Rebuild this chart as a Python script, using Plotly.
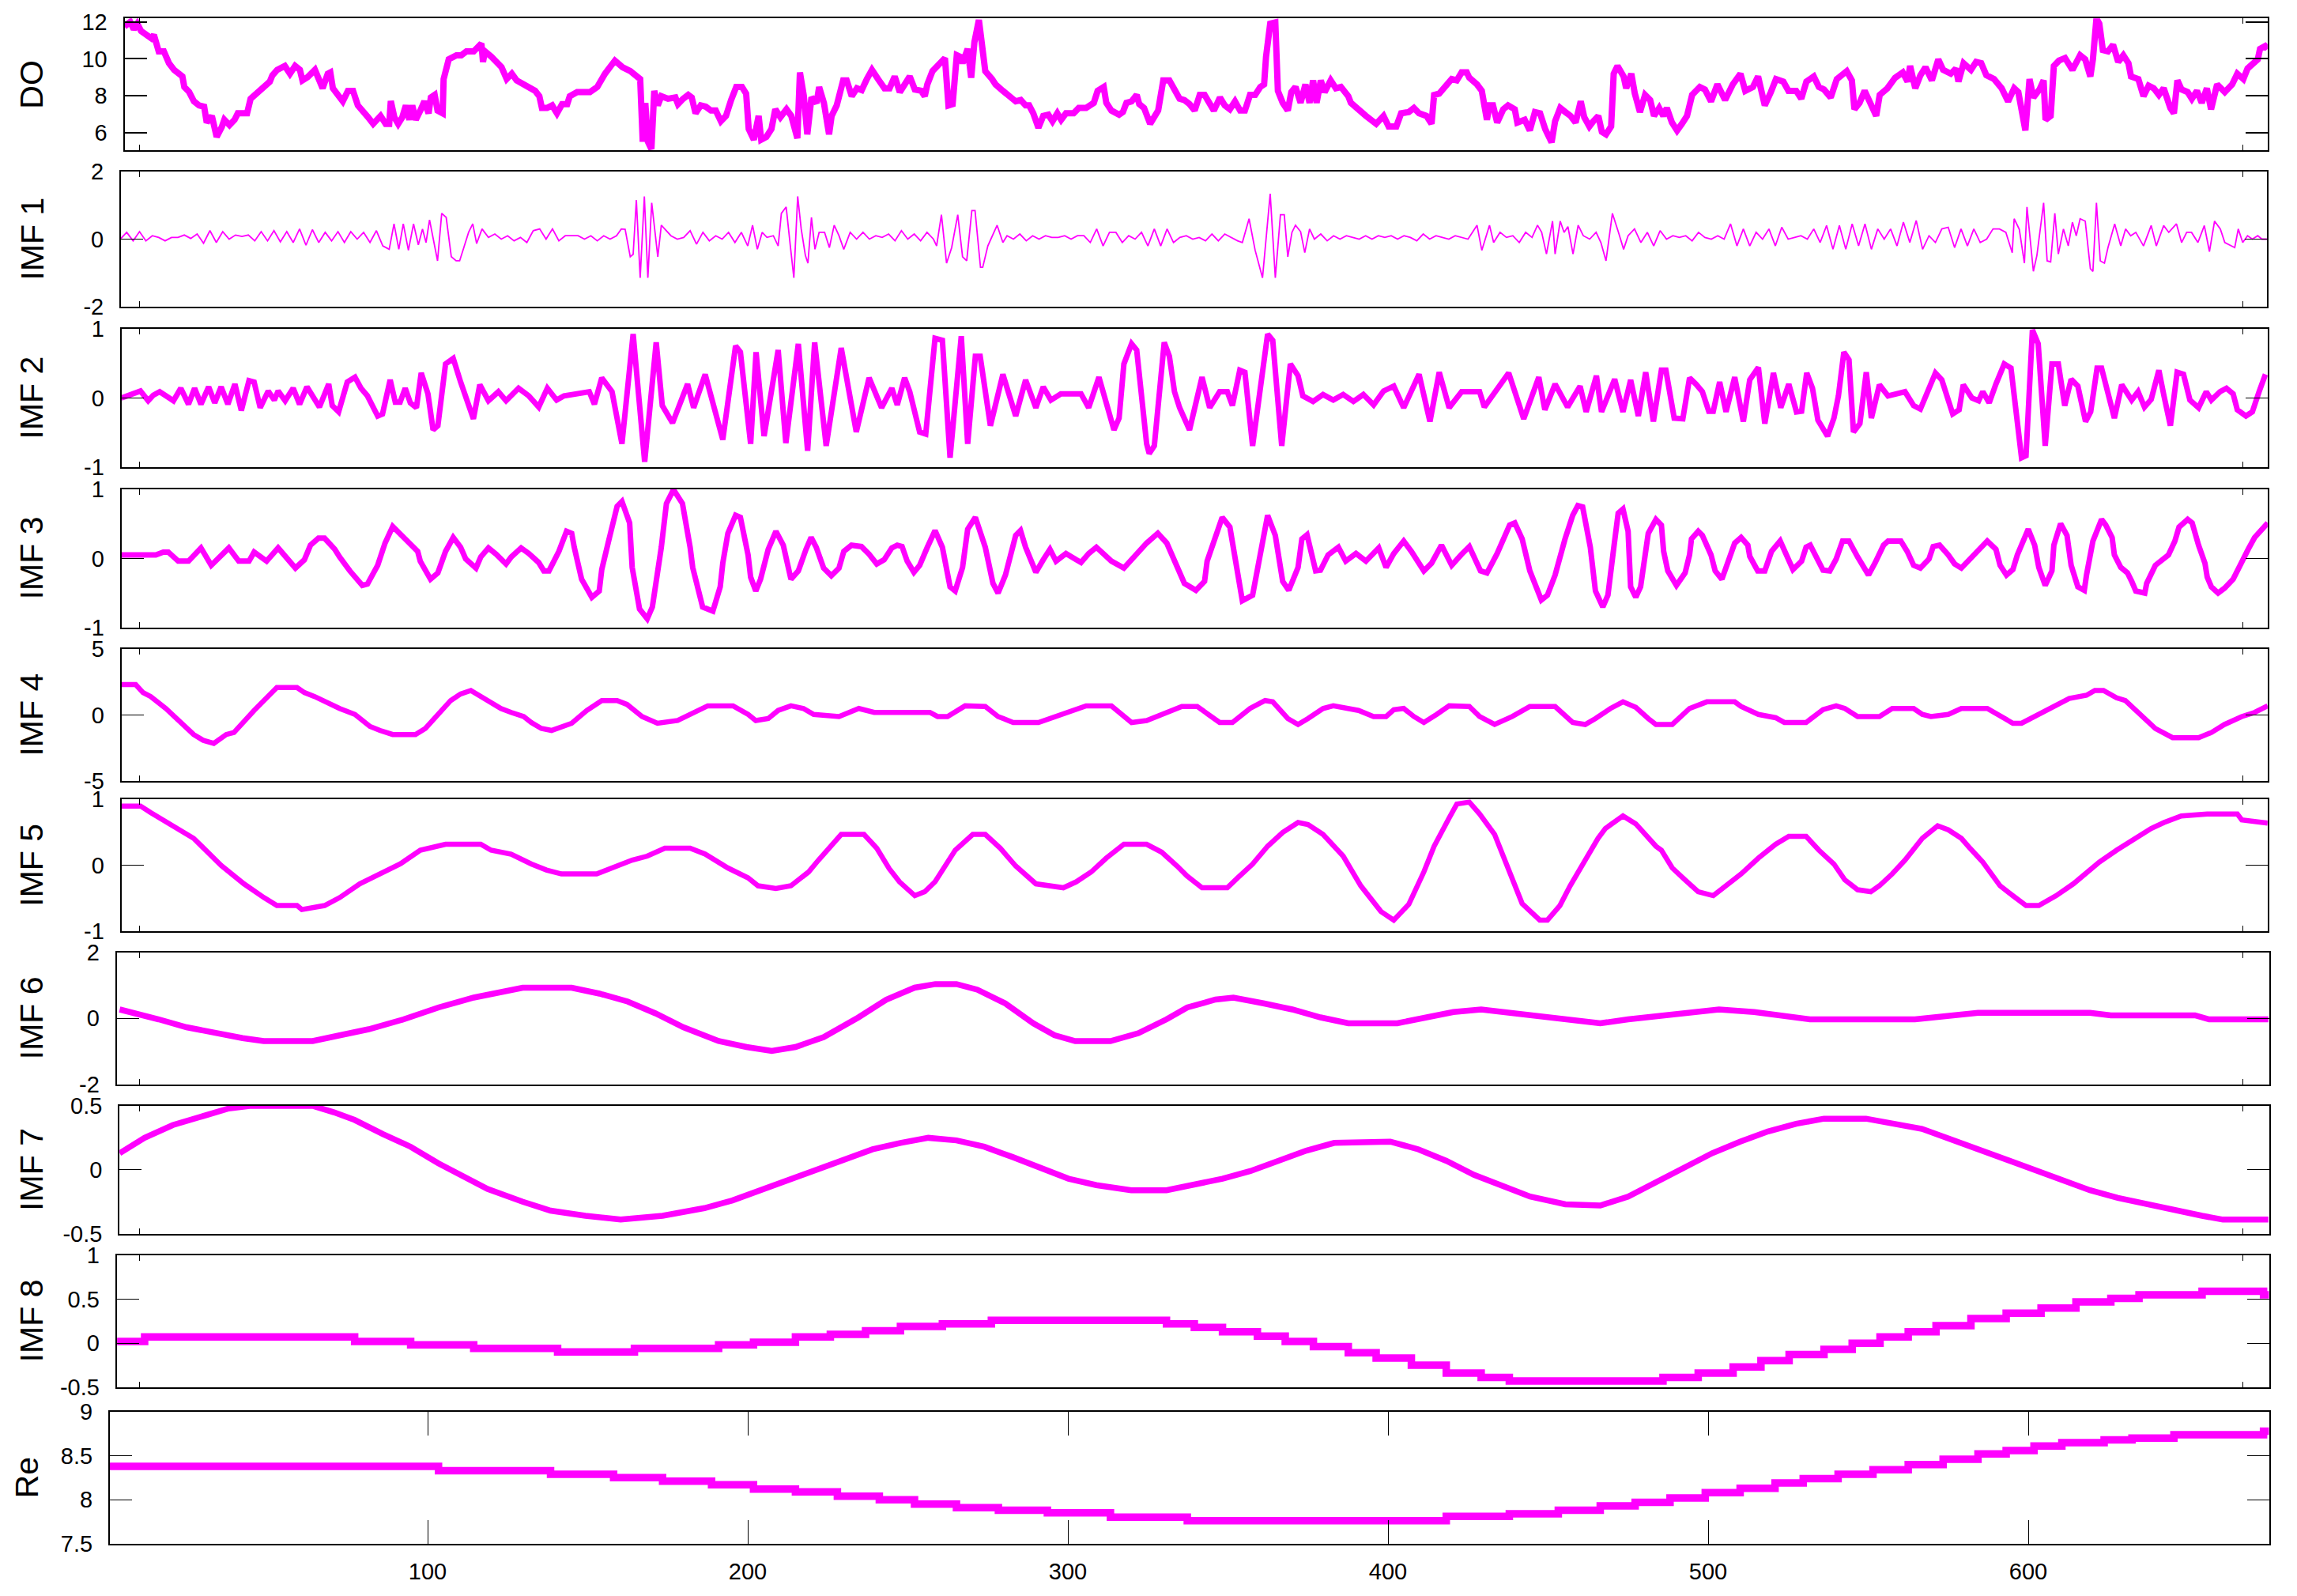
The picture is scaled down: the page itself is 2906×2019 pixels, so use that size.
import plotly.graph_objects as go

W, H = 2906, 2019
MAGENTA = "#FF00FF"

# ---------------- data ----------------
do_pts = [(5.3,11.75),(7.1,12.0),(8.2,11.6),(9.3,11.9),(10.5,11.5),(12.4,11.2),(13.7,11.11),(14.5,11.3),(15.2,10.75),(16.0,10.4),
 (17.6,10.4),(19.2,9.76),(20.8,9.4),(23.4,9.04),(24.0,8.47),(25.5,8.2),(27.0,7.69),(28.6,7.47),(30.2,7.4),(31.0,6.54),
 (32.6,6.9),(33.4,6.19),(34.1,5.76),(35.7,6.3),(36.5,6.69),(38.1,6.4),(39.7,6.69),(40.7,7.04),(43.6,7.04),(44.7,7.83),
 (45.9,8.0),(48.3,8.33),(50.7,8.76),(51.5,9.1),(53.0,9.4),(55.4,9.61),(57.0,9.19),(58.6,9.61),(60.1,9.4),(60.9,8.83),
 (62.5,9.0),(64.8,9.4),(67.2,8.4),(68.8,9.19),(69.6,9.26),(70.4,8.4),(71.9,8.1),(73.5,7.69),(75.1,8.26),(76.7,8.26),
 (78.2,7.47),(79.8,7.19),(81.4,6.83),(83.0,6.47),(85.3,6.9),(86.9,6.47),(88.0,6.47),(88.5,7.71),(89.6,6.83),(90.8,6.47),
 (92.1,6.83),(93.2,7.47),(94.3,6.69),(95.2,7.47),(96.3,6.69),(97.9,7.26),(99.0,7.69),(100.3,7.04),(101.0,7.9),(102.2,8.04),
 (103.1,7.19),(104.7,7.04),(105.0,8.9),(106.6,9.97),(109.0,10.19),(110.5,10.19),(112.1,10.4),(114.4,10.4),(115.5,10.6),(116.8,10.83),
 (117.3,9.83),(117.9,10.4),(119.9,10.11),(121.5,9.83),(123.1,9.54),(124.7,8.9),(126.3,9.19),(127.8,8.83),(130.2,8.6),(131.8,8.4),
 (133.6,8.26),(134.9,7.97),(135.7,7.33),(137.3,7.33),(138.9,7.47),(140.4,7.04),(142.0,7.54),(143.6,7.54),(144.4,7.97),(146.7,8.19),
 (150.7,8.19),(153.0,8.47),(155.4,9.19),(158.5,9.9),(160.9,9.54),(163.3,9.33),(164.8,9.11),(166.4,8.9),(167.2,5.5),(168.0,7.6),
 (168.8,5.5),(169.9,5.1),(170.8,8.26),(171.9,7.47),(173.0,7.97),(175.1,7.83),(177.4,7.9),(178.2,7.54),(179.8,7.83),(181.4,8.04),
 (182.5,7.9),(183.7,7.04),(185.3,7.47),(186.9,7.4),(188.5,7.19),(190.0,7.19),(191.6,6.61),(193.2,6.9),(194.8,7.76),(196.4,8.47),
 (198.2,8.47),(199.5,8.11),(200.3,6.19),(201.9,5.61),(203.4,6.9),(204.2,5.61),(205.8,5.76),(207.4,6.19),(208.6,7.26),(210.2,6.83),
 (212.1,7.26),(213.6,6.9),(215.5,5.69),(216.3,9.26),(217.5,8.0),(218.6,5.9),(219.9,7.9),(221.5,7.6),(222.3,8.47),(223.8,7.6),
 (225.4,5.9),(226.2,6.9),(227.8,7.47),(229.8,8.83),(230.9,8.83),(232.5,7.97),(234.1,8.4),(235.6,8.3),(237.2,8.9),(238.8,9.4),
 (240.7,8.9),(242.7,8.4),(244.3,8.4),(245.9,9.04),(247.5,8.19),(249.0,8.6),(250.6,9.04),(252.2,8.33),(254.2,8.26),(255.3,7.97),
 (256.1,8.61),(257.7,9.33),(260.1,9.76),(261.6,10.04),(262.7,7.47),(264.0,7.54),(265.3,10.19),(266.4,10.1),(267.1,9.76),(268.7,10.54),
 (269.8,8.97),(270.8,10.9),(272.2,12.11),(273.1,10.54),(274.2,9.33),(276.3,8.9),(277.4,8.61),(279.7,8.26),(282.1,7.97),(283.7,7.69),
 (285.3,7.76),(286.8,7.47),(287.9,7.47),(289.2,7.04),(290.8,6.26),(292.3,6.9),(293.9,6.97),(295.2,6.61),(296.7,7.04),(297.9,6.69),
 (299.4,7.04),(301.8,7.04),(303.4,7.33),(305.7,7.33),(308.1,7.61),(309.3,8.26),(311.2,8.47),(312.0,7.61),(313.6,7.19),(316.0,6.97),
 (317.2,7.11),(318.3,7.61),(319.9,7.69),(321.5,8.04),(322.3,7.54),(323.8,7.33),(325.7,6.47),(328.2,7.19),(329.8,8.83),(331.7,8.83),
 (333.3,8.33),(334.9,7.83),(336.4,7.76),(338.0,7.54),(339.6,7.19),(341.2,8.04),(342.7,8.04),(344.3,7.47),(345.6,7.19),(347.5,7.9),
 (349.0,7.47),(350.6,7.26),(352.2,7.69),(353.8,7.19),(355.3,7.19),(356.9,8.04),(358.5,8.04),(360.1,8.47),(361.3,8.61),(361.9,10.11),
 (363.2,11.9),(364.8,11.97),(365.6,8.26),(367.1,7.61),(368.7,7.19),(369.8,8.19),(371.1,8.47),(372.7,7.61),(374.2,8.61),(375.5,7.61),
 (376.6,8.83),(377.7,7.61),(379.0,8.83),(380.2,8.19),(382.1,8.83),(383.7,8.4),(385.3,8.47),(387.6,7.97),(388.4,7.61),(393.1,6.9),
 (396.3,6.47),(398.6,6.9),(400.2,6.33),(402.6,6.33),(404.1,7.04),(406.5,7.11),(408.1,7.33),(409.7,7.04),(412.0,6.9),(413.6,6.47),
 (414.4,8.04),(416.0,8.11),(417.5,8.47),(419.9,8.9),(421.5,8.83),(423.0,9.26),(424.6,9.26),(425.4,8.97),(427.8,8.61),(429.3,8.26),
 (430.9,6.69),(431.7,7.47),(432.8,7.47),(434.1,6.54),(436.0,7.26),(437.5,7.47),(439.6,7.26),(440.4,6.54),(442.7,6.69),(444.3,6.11),
 (445.9,7.11),(447.5,7.04),(449.1,6.19),(451.1,5.47),(452.2,6.61),(453.8,7.33),(455.4,7.11),(457.0,6.9),(458.6,6.54),(460.2,7.69),
 (461.3,6.83),(462.9,6.33),(464.1,6.6),(465.7,6.9),(466.8,6.04),(468.1,5.9),(469.7,6.33),(470.5,9.19),(471.7,9.61),(473.6,9.04),
 (474.4,8.4),(476.0,9.19),(477.1,8.11),(478.7,7.11),(480.3,8.04),(481.9,7.76),(483.1,6.9),(484.7,7.33),(486.0,6.9),(487.1,7.33),
 (488.7,6.54),(490.3,6.11),(491.8,6.47),(493.4,6.9),(495.0,8.04),(497.4,8.47),(499.0,8.33),(500.9,7.69),(502.9,8.61),(505.3,7.76),
 (507.7,8.61),(510.1,9.19),(511.6,8.26),(514.0,8.47),(515.6,9.04),(517.7,7.47),(519.6,8.19),(521.2,8.9),(523.5,8.76),(525.1,8.26),
 (527.5,8.26),(529.1,7.83),(530.7,8.76),(533.0,9.04),(534.6,8.47),(536.2,8.33),(538.3,7.9),(540.2,8.9),(543.3,9.33),(544.9,8.83),
 (545.7,7.26),(547.3,7.61),(548.9,8.26),(550.5,7.61),(552.5,6.9),(553.6,8.04),(556.0,8.4),(558.4,8.97),(560.8,9.26),(562.3,8.76),
 (563.1,9.61),(564.7,8.4),(566.3,9.1),(567.9,9.54),(569.9,8.83),(571.9,9.97),(573.4,9.4),(575.8,9.19),(577.4,9.47),(578.2,8.76),
 (579.8,9.76),(582.1,9.4),(583.7,9.83),(585.3,9.76),(586.9,9.11),(589.3,8.9),(591.7,8.4),(593.7,7.69),(595.6,8.4),(596.9,8.19),
 (598.0,7.19),(599.1,6.11),(600.4,8.9),(601.6,7.9),(603.5,8.33),(604.8,8.83),(605.4,6.69),(607.0,6.9),(608.0,9.61),(609.6,9.9),
 (611.5,10.04),(613.8,9.4),(616.2,10.19),(617.8,9.97),(619.4,9.04),(620.2,9.97),(621.3,12.19),(622.2,11.9),(623.3,10.47),(624.9,10.4),
 (626.5,10.76),(628.1,9.83),(629.7,10.19),(631.3,9.76),(632.1,9.04),(634.4,8.9),(636.0,7.97),(637.6,8.54),(639.2,8.4),(640.8,8.04),
 (642.3,8.4),(644.4,7.33),(645.5,7.04),(646.6,8.83),(647.9,8.33),(649.8,8.19),(651.1,7.83),(652.7,8.26),(654.2,7.61),(655.8,8.4),
 (657.1,7.26),(659.0,8.61),(661.4,8.19),(663.7,8.61),(665.3,9.19),(667.2,8.9),(668.5,9.47),(670.1,9.76),(671.7,9.97),(672.4,10.54),
 (674.0,10.69),(674.8,10.54)]

imf1_pts = [(4,0.0),(6,0.2),(8,-0.05),(10,0.22),(12,-0.05),(14,0.1),(16,0.05),(18,-0.05),(20,0.05),(22,0.05),(24,0.12),(26,0.02),
 (28,0.15),(30,-0.12),(32,0.25),(34,-0.1),(36,0.22),(38,0.0),(40,0.12),(42,0.08),(44,0.12),(46,-0.05),(48,0.22),(50,-0.05),
 (52,0.25),(54,-0.08),(56,0.22),(58,-0.1),(60,0.3),(62,-0.18),(64,0.28),(66,-0.1),(68,0.2),(70,-0.05),(72,0.22),(74,-0.1),
 (76,0.22),(78,0.0),(80,0.2),(82,-0.1),(84,0.25),(86,-0.2),
 (88,-0.3),(89.5,0.45),(91,-0.3),(92.4,0.45),(94,-0.33),(95.6,0.45),(97.1,-0.17),(98.4,0.3),(99.5,-0.1),(100.6,0.57),
 (103.1,-0.64),(104.4,0.76),(105.8,0.64),(107.4,-0.52),(108.9,-0.64),(110,-0.64),(111.3,-0.25),(112.8,0.2),(114.1,0.45),(115.3,-0.13),
 (117,0.3),(119,0.05),(121,0.15),(123,0.0),(125,0.1),(127,-0.05),(129,0.05),(131,-0.1),(133,0.25),(135,0.3),(137,0.0),(139,0.3),
 (141,-0.05),(143,0.1),(145,0.1),(147,0.1),(149,0.0),(151,0.1),(153,-0.05),(155,0.1),(157,0.0),(159,0.1),(160.5,0.3),
 (161.7,0.29),(163.3,-0.52),(164.2,-0.45),(165.2,1.15),(166.4,-1.14),(167.7,1.26),(168.8,-1.14),(170.0,1.07),(171.9,-0.52),(173.0,0.41),
 (174,0.3),(176,0.1),(178,0.0),(180,0.05),(182,0.25),(184,-0.15),(186,0.2),(188,-0.05),(190,0.1),(192,0.0),(194,0.2),(196,-0.1),
 (198,0.2),(200,-0.2),(201.5,0.41),(203,-0.3),(204.5,0.2),(206,0.05),(208,0.1),(209.5,-0.2),
 (210.5,0.76),(212,0.95),(213.3,-0.2),(214.4,-1.14),(215.6,1.26),(216.7,0.3),(218,-0.48),(218.8,-0.71),(219.9,0.64),(221,-0.3),(222.3,0.2),
 (224,0.2),(225.5,-0.25),(227,0.41),(228.5,0.1),(230,-0.3),(232,0.2),(234,0.0),(236,0.2),(238,0.0),(240,0.1),(242,0.05),(244,0.15),
 (246,-0.05),(248,0.25),(250,0.0),(252,0.15),(254,-0.05),(256,0.2),(258,0.0),
 (259,-0.2),(260.5,0.72),(262.1,-0.71),(263.7,-0.25),(265.6,0.72),(267.1,-0.52),(268.4,-0.64),(270,0.84),(271,0.84),(272.7,-0.83),
 (273.4,-0.83),(275,-0.2),(277.9,0.41),(279.7,-0.1),
 (281,0.1),(283,0.0),(285,0.15),(287,-0.05),(289,0.1),(291,0.0),(293,0.1),(295,0.05),(297,0.05),(299,0.1),(301,0.0),(303,0.1),
 (305,0.1),(307,-0.1),(309,0.3),(311,-0.2),(313,0.2),(315,0.2),(317,-0.1),(319,0.1),(321,0.0),(323,0.2),(325,-0.2),(327,0.3),
 (329,-0.2),(331,0.3),(333,-0.1),(335,0.05),(337,0.1),(339,0.0),(341,0.05),(343,-0.05),(345,0.15),(347,-0.05),(349,0.15),(351,0.05),(353,-0.05),
 (354.5,-0.1),(356.6,0.6),(358.5,-0.33),(360.8,-1.14),(363.2,1.34),(364.8,-1.14),(366.4,0.72),(367.6,0.72),(368.7,-0.52),(370,0.2),
 (371.1,0.41),(372.7,0.22),(374,-0.4),(375.5,0.3),
 (377,0.0),(379,0.15),(381,-0.05),(383,0.1),(385,0.0),(387,0.1),(389,0.05),(391,0.0),(393,0.1),(395,0.0),(397,0.1),(399,0.05),
 (401,0.1),(403,0.0),(405,0.1),(407,0.05),(409,-0.05),(411,0.15),(413,0.0),(415,0.1),(417,0.05),(419,0.0),(421,0.1),(423,0.05),
 (425,0.0),(427.8,0.41),(429.3,-0.33),(431.7,0.41),(433,-0.1),(435,0.2),(437,0.05),(439,0.1),(441,-0.1),(443,0.2),(445,0.05),
 (446.7,0.41),(448,0.2),(449.5,-0.44),(451.4,0.53),(452.2,-0.44),(453.8,0.53),(455,0.2),(456.2,0.37),(457.8,-0.44),(459.4,0.41),
 (461,0.1),(463,0.0),(465,0.2),(466.5,-0.1),(468.1,-0.64),(470.1,0.76),(472,0.2),(473.6,-0.3),
 (475,0.1),(477,0.3),(479,-0.1),(481,0.2),(483,-0.2),(485,0.25),(487,0.0),(489,0.1),(491,0.05),(493,0.1),(495,-0.05),(497,0.2),
 (499,0.05),(501,0.0),(503,0.1),(505,0.0),(507,0.45),(509,-0.2),(511,0.3),(513,-0.2),(515,0.2),(517,0.0),(519,0.3),(521,-0.2),
 (523,0.35),(525,0.0),(527,0.05),(529,0.1),(531,0.0),(533,0.3),(535,-0.1),(537,0.4),(539,-0.3),(541,0.4),(543,-0.3),(545,0.45),
 (547,-0.2),(549,0.45),(551,-0.3),(553,0.3),(555,0.0),(557,0.3),(559,-0.2),(561,0.5),(563,-0.1),(565,0.55),(567,-0.3),(569,0.1),
 (571,-0.1),(573,0.3),(575,0.35),(577,-0.25),(579,0.3),(581,-0.2),(583,0.3),(585,-0.1),(587,0.0),(589,0.3),(591,0.3),(593,0.2),(595,-0.4),
 (595.6,0.6),(597.2,0.29),(598.8,-0.71),(599.6,0.95),(601.6,-0.95),(602.7,-0.48),(604.8,1.07),(605.9,-0.64),(607,-0.67),(608.3,0.76),
 (609.4,-0.44),(611,0.3),(612.5,-0.2),(613.8,0.5),(615,0.1),(616.2,0.6),(617.8,0.53),(619.4,-0.87),(620.2,-0.95),(621.3,1.07),
 (622.5,-0.64),(623.8,-0.71),(624.9,-0.25),(627,0.45),
 (628.9,-0.2),(630.4,0.3),(632,0.1),(633.6,0.2),(636,-0.2),(638.4,0.4),(640,-0.2),(642.3,0.4),(643.9,0.2),(646.3,0.45),(647.9,-0.1),
 (649.5,0.2),(651,0.2),(653,-0.1),(655,0.4),(656.6,-0.37),(658.2,0.53),(660,0.3),(661.4,-0.1),(664.5,-0.25),(665.6,0.3),(667,-0.1),
 (668.5,0.1),(670,0.0),(671.7,0.1),(673,0.0),(674.8,0.0)]

imf2_pts = [(4.3,0),(7.2,0.04),(10.3,0.1),(12.7,-0.04),(14.3,0.04),(16.3,0.09),(18.2,0.03),(20.6,-0.04),(22.9,0.14),(25.3,-0.09),
 (27.2,0.14),(29.2,-0.09),(31.6,0.16),(33.5,-0.07),(35.5,0.16),(37.6,-0.09),(39.8,0.2),(41.8,-0.18),(44.2,0.25),(45.8,0.23),
 (47.7,-0.14),(50.2,0.1),(52.1,-0.03),(53.3,0.1),(55.5,-0.04),(58.0,0.14),(60.0,-0.09),(62.3,0.16),(66.2,-0.13),(69.1,0.2),
 (70.2,-0.11),(72.2,-0.2),(74.9,0.23),(77.3,0.3),(79.2,0.14),(81.2,0.03),(84.4,-0.26),(85.9,-0.23),(88.3,0.26),(89.9,-0.06),
 (91.4,-0.06),(93.0,0.14),(94.6,-0.07),(96.5,-0.14),(98.0,0.36),(100.1,0.06),(101.7,-0.46),(103.2,-0.4),(105.6,0.49),(108.0,0.57),
 (110.3,0.23),(114.3,-0.3),(116.3,0.19),(119.0,-0.04),(122.1,0.09),(124.5,-0.04),(128.4,0.14),(131.6,0.03),(134.7,-0.13),(137.4,0.14),
 (140.3,-0.03),(142.6,0.03),(150.5,0.09),(152.1,-0.09),(154.4,0.29),(157.6,0.09),(160.7,-0.66),(164.2,0.92),(167.8,-0.92),(171.4,0.8),
 (173.3,-0.11),(176.5,-0.36),(181.2,0.2),(183.1,-0.14),(186.7,0.34),(189.1,-0.06),(192.2,-0.6),(196.2,0.75),(197.7,0.66),(200.9,-0.66),
 (202.6,0.66),(205.1,-0.55),(209.5,0.69),(211.9,-0.65),(215.8,0.78),(218.7,-0.76),(220.9,0.8),(224.5,-0.69),(229.2,0.72),(233.9,-0.49),
 (237.9,0.29),(241.8,-0.14),(245.0,0.14),(246.7,-0.1),(249.0,0.29),(250.6,0.09),(253.7,-0.49),(255.6,-0.52),(258.5,0.86),(260.8,0.83),
 (263.2,-0.86),(266.7,0.89),(268.7,-0.66),(271.1,0.6),(272.6,0.6),(275.8,-0.4),(279.7,0.34),(283.7,-0.26),(286.8,0.26),(290.0,-0.14),
 (292.3,0.16),(294.7,-0.03),(297.8,0.06),(304.1,0.06),(306.5,-0.14),(309.7,0.3),(314.4,-0.46),(316.0,-0.29),(317.5,0.49),(319.9,0.78),
 (321.5,0.69),(324.6,-0.66),(325.4,-0.8),(327.0,-0.69),(330.1,0.8),(331.7,0.6),(333.3,0.09),(334.9,-0.14),(338.0,-0.46),(341.9,0.3),
 (344.3,-0.14),(347.4,0.09),(349.8,0.09),(351.4,-0.11),(353.7,0.4),(355.3,0.37),(357.7,-0.69),(362.4,0.92),(364.0,0.83),(366.8,-0.69),
 (369.5,0.49),(371.9,0.32),(373.4,0.03),(376.6,-0.05),(379.7,0.05),(382.9,-0.03),(386.0,0.05),(389.2,-0.05),(392.3,0.05),(395.5,-0.1),
 (398.6,0.1),(401.8,0.17),(404.9,-0.14),(409.7,0.34),(413.1,-0.34),(416.0,0.37),(419.1,-0.14),(423.0,0.09),(428.6,0.09),(430.1,-0.13),
 (433.3,0.09),(437.7,0.36),(442.4,-0.3),(447.1,0.3),(449.0,-0.17),(452.2,0.2),(456.1,-0.13),(460.0,0.17),(461.9,-0.2),(465.1,0.32),
 (466.7,-0.2),(470.8,0.27),(473.4,-0.2),(475.8,0.26),(478.2,-0.26),(480.5,0.37),(482.9,-0.34),(485.4,0.4),(486.8,0.4),(489.4,-0.29),
 (492.1,-0.3),(494.2,0.29),(496.2,0.2),(498.2,0.09),(500.2,-0.19),(501.6,-0.19),(503.6,0.23),(505.6,-0.2),(508.3,0.3),(511.0,-0.34),
 (513.0,0.26),(515.7,0.44),(517.7,-0.37),(520.4,0.36),(522.7,-0.14),(525.2,0.2),(527.6,-0.2),(529.2,-0.19),(530.8,0.36),(532.6,0.14),
 (534.3,-0.32),(537.3,-0.55),(539.3,-0.29),(540.7,0.03),(542.4,0.66),(544.0,0.55),(545.4,-0.49),(547.4,-0.37),(549.4,0.37),(551.0,-0.29),
 (553.5,0.19),(556.2,0.03),(561.5,0.09),(564.2,-0.11),(566.3,-0.16),(568.6,0.11),(571.0,0.36),(573.0,0.26),(576.4,-0.23),(578.4,-0.17),
 (579.7,0.19),(582.4,0.0),(584.5,-0.04),(585.8,0.09),(587.8,-0.07),(589.9,0.2),(592.5,0.49),(594.6,0.43),(595.9,-0.03),(597.9,-0.86),
 (599.3,-0.83),(601.3,0.98),(603.1,0.78),(605.3,-0.69),(607.4,0.49),(609.4,0.49),(611.4,-0.11),(613.4,0.27),(615.5,0.17),(617.9,-0.34),
 (619.5,-0.2),(621.5,0.43),(622.9,0.43),(624.9,0.06),(626.9,-0.29),(629.2,0.19),(631.0,0.06),(632.3,-0.03),(634.3,0.09),(636.3,-0.13),
 (638.4,-0.02),(640.8,0.4),(642.4,0.03),(644.4,-0.4),(646.5,0.37),(648.5,0.34),(650.5,-0.03),(653.2,-0.14),(655.6,0.09),(657.2,-0.03),
 (659.9,0.09),(661.9,0.14),(664.0,0.06),(665.3,-0.17),(668.0,-0.26),(670.0,-0.2),(672.1,0.09),(674.1,0.34)]

imf3_pts = [(4.3,0.05),(15.1,0.05),(17.4,0.09),(19.0,0.09),(22.1,-0.04),(25.3,-0.04),(29.2,0.15),(32.4,-0.1),(37.9,0.15),(41.0,-0.04),
 (44.2,-0.04),(45.8,0.09),(49.7,-0.04),(53.3,0.15),(58.7,-0.14),(61.5,-0.02),(63.4,0.19),(65.9,0.29),(67.8,0.29),(71.0,0.13),
 (72.5,0.02),(75.7,-0.18),(79.6,-0.39),(81.2,-0.37),(84.4,-0.1),(86.7,0.22),(89.1,0.46),(91.4,0.36),(94.6,0.22),(96.9,0.1),
 (97.7,-0.04),(100.9,-0.3),(103.2,-0.21),(105.6,0.1),(108.0,0.3),(110.3,0.16),(111.9,-0.01),(115.1,-0.14),(116.6,0.02),(119.0,0.15),
 (121.4,0.06),(124.5,-0.08),(126.1,0.02),(129.2,0.15),(131.6,0.07),(134.7,-0.06),(136.3,-0.18),(137.9,-0.18),(141.0,0.1),(143.4,0.39),
 (145.0,0.36),(145.8,0.16),(148.1,-0.3),(151.3,-0.56),(153.6,-0.47),(154.4,-0.16),(156.8,0.3),(159.2,0.75),(160.7,0.82),(163.1,0.51),
 (163.9,-0.13),(166.2,-0.73),(168.6,-0.87),(170.2,-0.7),(173.0,0.16),(174.6,0.79),(176.8,0.99),(179.6,0.79),(182.0,0.16),(182.8,-0.13),
 (185.9,-0.7),(189.1,-0.76),(191.4,-0.41),(192.2,-0.07),(193.8,0.36),(196.2,0.62),(197.7,0.59),(200.1,0.05),(200.9,-0.27),(202.5,-0.47),
 (204.0,-0.3),(206.4,0.13),(208.8,0.39),(211.1,0.19),(213.5,-0.3),(215.8,-0.18),(218.2,0.13),(219.8,0.3),(221.4,0.16),(223.7,-0.14),
 (226.1,-0.25),(228.5,-0.14),(230.0,0.1),(232.4,0.19),(235.5,0.17),(237.9,0.06),(240.3,-0.08),(242.6,-0.02),(245.0,0.15),(246.7,0.19),
 (248.2,0.17),(249.8,-0.04),(251.9,-0.2),(253.7,-0.1),(256.1,0.16),(258.5,0.4),(260.8,0.16),(263.2,-0.41),(264.8,-0.47),(267.1,-0.13),
 (268.7,0.42),(271.1,0.59),(274.2,0.16),(276.6,-0.36),(278.2,-0.5),(280.5,-0.24),(283.7,0.33),(285.2,0.4),(286.8,0.16),(290.0,-0.2),
 (292.3,-0.02),(294.4,0.13),(296.3,-0.04),(299.4,0.07),(302.6,-0.02),(304.1,-0.06),(306.5,0.07),(308.9,0.16),(313.6,-0.04),(317.5,-0.14),
 (324.6,0.22),(328.1,0.36),(330.9,0.22),(334.1,-0.13),(336.4,-0.36),(340.0,-0.46),(342.7,-0.33),(343.5,-0.04),(345.9,0.3),(348.2,0.59),
 (350.6,0.45),(353.0,-0.18),(354.5,-0.61),(357.7,-0.53),(360.0,-0.01),(362.4,0.62),(364.8,0.33),(367.1,-0.33),(369.0,-0.46),(371.9,-0.13),
 (373.1,0.28),(374.7,0.34),(377.4,-0.18),(378.9,-0.17),(381.3,0.05),(384.5,0.16),(386.8,-0.04),(390.0,0.07),(393.1,-0.04),(397.1,0.15),
 (399.4,-0.13),(401.8,0.07),(404.9,0.25),(407.3,0.1),(411.2,-0.18),(413.6,-0.07),(416.7,0.19),(419.9,-0.1),(423.0,0.06),(425.4,0.17),
 (428.9,-0.18),(430.9,-0.21),(434.1,0.07),(438.0,0.48),(439.6,0.51),(441.9,0.28),(444.3,-0.18),(447.9,-0.6),(449.8,-0.53),(452.2,-0.24),
 (455.3,0.28),(457.7,0.62),(459.3,0.76),(460.8,0.74),(463.2,0.16),(464.8,-0.47),(467.1,-0.7),(468.7,-0.53),(470.3,0.07),(471.9,0.65),
 (473.4,0.71),(475.0,0.39),(475.8,-0.41),(477.4,-0.56),(478.9,-0.41),(481.3,0.36),(483.7,0.56),(485.4,0.48),(486.1,0.1),(487.4,-0.18),
 (490.1,-0.39),(492.8,-0.21),(494.2,0.05),(494.8,0.28),(496.9,0.39),(498.2,0.33),(500.9,0.05),(502.2,-0.18),(504.3,-0.3),(506.3,-0.01),
 (508.3,0.22),(510.3,0.3),(512.4,0.19),(513.0,0.03),(515.5,-0.18),(517.7,-0.18),(519.8,0.1),(522.5,0.25),(524.5,0.02),(526.5,-0.16),
 (529.2,-0.04),(530.6,0.16),(531.9,0.19),(533.9,0.02),(535.9,-0.17),(538.0,-0.18),(540.0,-0.01),(542.0,0.25),(544.0,0.25),(546.7,0.02),
 (550.1,-0.24),(552.1,-0.07),(554.8,0.19),(556.2,0.25),(560.2,0.25),(562.2,0.1),(564.2,-0.1),(566.3,-0.14),(569.0,-0.01),(570.3,0.17),
 (572.3,0.19),(575.0,0.05),(577.0,-0.08),(579.1,-0.14),(581.1,-0.04),(583.8,0.07),(587.2,0.25),(589.9,0.13),(591.2,-0.1),(593.2,-0.24),
 (595.2,-0.16),(596.6,0.05),(598.6,0.3),(600.0,0.42),(602.0,0.19),(603.3,-0.13),(605.3,-0.39),(607.4,-0.18),(608.0,0.19),(610.1,0.5),
 (612.1,0.33),(613.4,-0.1),(615.5,-0.41),(617.5,-0.46),(618.2,-0.24),(620.2,0.25),(622.9,0.56),(624.2,0.48),(626.2,0.3),(626.9,0.05),
 (628.9,-0.13),(631.0,-0.21),(632.3,-0.33),(633.6,-0.47),(636.4,-0.5),(637.0,-0.36),(639.7,-0.1),(643.8,0.05),(645.8,0.25),(647.1,0.45),
 (649.8,0.56),(651.2,0.51),(653.2,0.19),(655.2,-0.07),(655.9,-0.27),(657.2,-0.41),(659.3,-0.5),(661.3,-0.43),(664.0,-0.3),(666.0,-0.1),
 (668.7,0.13),(670.7,0.3),(672.7,0.41),(674.8,0.51)]

imf4_pts = [(4.3,2.3),(8.8,2.3),(11.1,1.7),(13.5,1.4),(18.2,0.5),(22.1,-0.41),(26.9,-1.47),(30.0,-1.92),(33.2,-2.14),(37.1,-1.47),
 (39.5,-1.32),(45.8,0.35),(52.9,2.08),(59.2,2.08),(61.5,1.7),(64.7,1.4),(67.8,1.0),(72.5,0.5),(77.3,0.05),(82.0,-0.86),
 (85.1,-1.16),(89.1,-1.47),(96.2,-1.47),(99.3,-1.01),(107.2,1.1),(110.3,1.6),(113.5,1.86),(115.8,1.55),(119.0,1.1),(122.9,0.5),
 (126.1,0.2),(130.0,-0.11),(132.4,-0.56),(135.5,-1.01),(138.7,-1.16),(141.8,-0.86),(145.0,-0.62),(149.7,0.35),(154.4,1.1),(159.2,1.1),
 (162.3,0.8),(167.0,-0.11),(171.8,-0.62),(178.1,-0.41),(182.8,0.1),(187.5,0.7),(195.4,0.7),(200.1,0.05),(202.5,-0.41),(206.4,-0.26),
 (209.5,0.35),(213.5,0.7),(217.4,0.5),(220.6,0.05),(228.5,-0.11),(234.7,0.5),(239.5,0.2),(245.0,0.2),(256.9,0.2),(259.3,-0.11),
 (262.4,-0.11),(267.9,0.7),(274.2,0.65),(278.2,-0.11),(282.9,-0.56),(290.8,-0.56),(297.8,0.05),(305.7,0.7),(313.6,0.7),(319.9,-0.56),
 (324.6,-0.41),(332.5,0.35),(335.6,0.65),(340.4,0.65),(347.4,-0.56),(351.4,-0.56),(356.9,0.5),(361.6,1.1),(364.0,1.0),(368.7,-0.26),
 (371.9,-0.71),(375.0,-0.26),(379.7,0.5),(382.9,0.7),(390.8,0.35),(395.5,-0.11),(399.4,-0.11),(401.8,0.41),(404.9,0.5),(408.1,-0.11),
 (411.2,-0.56),(415.2,0.05),(419.1,0.7),(425.4,0.65),(428.6,-0.11),(433.3,-0.71),(438.8,-0.11),(444.3,0.65),(452.2,0.65),(457.7,-0.56),
 (461.6,-0.71),(464.8,-0.26),(469.5,0.5),(473.4,1.0),(477.4,0.59),(481.3,-0.26),(483.7,-0.71),(488.8,-0.71),(494.2,0.5),(499.6,1.0),
 (508.3,1.0),(510.3,0.65),(515.7,0.05),(521.1,-0.2),(523.8,-0.56),(530.6,-0.56),(535.9,0.41),(540.0,0.7),(542.7,0.5),(546.7,-0.11),
 (553.5,-0.11),(557.5,0.5),(564.2,0.5),(566.9,0.05),(569.6,-0.11),(575.0,0.05),(579.1,0.5),(587.2,0.5),(591.2,-0.11),(595.2,-0.62),
 (597.9,-0.62),(602.0,-0.11),(607.4,0.65),(612.8,1.25),(618.2,1.5),(620.8,1.86),(623.5,1.86),(627.6,1.3),(630.3,1.1),(634.3,0.2),
 (639.7,-1.01),(645.1,-1.71),(653.2,-1.71),(657.2,-1.32),(661.3,-0.71),(666.7,-0.11),(670.7,0.2),(674.8,0.7)]

imf5_pts = [(4.3,0.9),(10.3,0.9),(13.5,0.8),(17.4,0.69),(20.6,0.6),(26.9,0.41),(35.5,0.0),(42.6,-0.28),(48.9,-0.49),(52.9,-0.61),
 (59.2,-0.61),(60.7,-0.67),(67.8,-0.61),(72.5,-0.49),(78.8,-0.28),(85.1,-0.13),(91.4,0.02),(97.7,0.23),(105.6,0.32),(116.6,0.32),
 (119.8,0.23),(126.1,0.17),(132.4,0.02),(137.1,-0.07),(141.8,-0.13),(152.8,-0.13),(157.6,-0.04),(163.9,0.08),(168.6,0.14),(174.1,0.26),
 (182.0,0.26),(186.7,0.17),(193.8,-0.04),(200.1,-0.19),(203.2,-0.31),(208.8,-0.35),(213.5,-0.31),(219.0,-0.1),(222.1,0.08),(229.2,0.47),
 (236.3,0.47),(240.3,0.26),(244.2,-0.05),(247.4,-0.25),(252.2,-0.46),(255.3,-0.4),(258.5,-0.25),(261.6,-0.01),(264.8,0.23),(270.3,0.47),
 (274.2,0.47),(278.9,0.26),(283.7,-0.01),(290.0,-0.28),(298.6,-0.34),(302.6,-0.25),(307.3,-0.1),(312.0,0.11),(317.5,0.32),(324.6,0.32),
 (329.3,0.2),(334.1,-0.01),(337.2,-0.16),(341.9,-0.34),(349.8,-0.34),(353.0,-0.19),(357.7,0.02),(362.4,0.29),(367.1,0.5),(371.9,0.65),
 (375.0,0.62),(379.7,0.47),(386.0,0.14),(391.5,-0.31),(397.8,-0.7),(401.8,-0.83),(406.5,-0.59),(411.2,-0.1),(414.4,0.29),(419.1,0.72),
 (421.5,0.93),(425.4,0.96),(428.6,0.78),(433.3,0.47),(438.0,-0.1),(441.9,-0.58),(447.4,-0.83),(449.8,-0.83),(453.7,-0.61),(456.9,-0.31),
 (461.6,0.08),(465.6,0.41),(467.9,0.56),(473.4,0.75),(477.4,0.63),(483.7,0.29),(485.4,0.23),(488.8,-0.04),(492.8,-0.22),(496.9,-0.4),
 (501.6,-0.46),(506.3,-0.28),(510.3,-0.13),(515.7,0.11),(521.1,0.32),(525.2,0.44),(530.6,0.44),(534.6,0.23),(539.3,0.02),(542.7,-0.22),
 (546.7,-0.37),(550.8,-0.4),(553.5,-0.31),(557.5,-0.13),(561.5,0.08),(566.9,0.41),(571.7,0.6),(575.0,0.54),(579.1,0.41),(581.8,0.26),
 (585.8,0.05),(588.5,-0.13),(591.2,-0.31),(595.2,-0.46),(599.3,-0.61),(603.3,-0.61),(608.7,-0.46),(614.1,-0.28),(618.2,-0.1),(622.2,0.05),
 (627.6,0.23),(634.3,0.44),(638.4,0.56),(642.4,0.65),(647.8,0.75),(655.9,0.78),(665.3,0.78),(666.7,0.69),(672.1,0.66),(674.8,0.64)]

imf6_pts = [(3.8,0.27),(9.4,0.15),(16.0,-0.03),(24.7,-0.27),(33.5,-0.45),(42.2,-0.6),(48.8,-0.69),(64.1,-0.69),(72.8,-0.51),(81.6,-0.33),
 (92.5,-0.03),(103.4,0.33),(114.4,0.63),(123.1,0.8),(129.7,0.93),(145.0,0.93),(153.7,0.75),(162.5,0.51),(171.2,0.15),(179.9,-0.27),
 (190.9,-0.69),(199.6,-0.87),(207.5,-0.99),(214.9,-0.87),(223.7,-0.57),(234.6,0.03),(243.3,0.57),(252.1,0.93),(258.6,1.04),(265.2,1.04),
 (271.7,0.87),(280.5,0.45),(289.2,-0.15),(295.8,-0.51),(302.3,-0.69),(313.3,-0.69),(322.0,-0.45),(330.8,-0.03),(337.3,0.33),(346.1,0.57),
 (351.7,0.63),(361.4,0.45),(370.1,0.27),(378.9,0.03),(387.6,-0.15),(402.9,-0.15),(411.6,0.03),(420.4,0.19),(429.1,0.27),(435.7,0.19),
 (446.6,0.07),(457.5,-0.03),(466.3,-0.15),(475.0,-0.03),(483.8,0.07),(492.5,0.19),(503.4,0.27),(514.4,0.19),(523.1,0.09),(531.8,-0.03),
 (564.6,-0.03),(571.2,0.05),(584.3,0.17),(619.3,0.17),(625.8,0.09),(652.1,0.09),(656.5,-0.03),(675.0,-0.03)]

imf7_pts = [(3.8,0.13),(11.6,0.25),(20.4,0.35),(29.1,0.42),(37.9,0.48),(44.4,0.5),(64.1,0.5),(70.7,0.45),(77.2,0.39),(86.0,0.28),
 (94.7,0.18),(103.4,0.05),(110.0,-0.04),(118.7,-0.15),(129.7,-0.25),(138.4,-0.32),(149.3,-0.36),(160.3,-0.39),(173.4,-0.36),(186.5,-0.3),
 (195.2,-0.24),(204.0,-0.16),(212.7,-0.07),(221.5,0.01),(230.2,0.08),(239.0,0.16),(247.7,0.21),(256.4,0.25),(265.2,0.23),(273.9,0.18),
 (282.7,0.1),(291.4,0.01),(300.2,-0.07),(308.9,-0.12),(319.8,-0.16),(330.8,-0.16),(339.5,-0.12),(348.3,-0.07),(357.0,-0.01),(365.7,0.07),
 (374.5,0.15),(383.2,0.21),(392.0,0.22),(400.7,0.22),(409.5,0.16),(418.2,0.07),(426.9,-0.04),(435.7,-0.13),(444.4,-0.21),(455.4,-0.27),
 (466.3,-0.28),(475.0,-0.21),(483.8,-0.1),(492.5,0.01),(501.3,0.13),(510.0,0.22),(518.7,0.3),(527.5,0.36),(536.2,0.4),(549.3,0.4),
 (558.1,0.36),(566.8,0.32),(575.6,0.24),(584.3,0.16),(593.1,0.07),(601.8,-0.01),(610.5,-0.08),(619.3,-0.16),(628.0,-0.22),(636.8,-0.27),
 (645.5,-0.32),(654.3,-0.36),(660.8,-0.39),(675.0,-0.39)]

imf8_pts = [(3.0,0.02),(11.6,0.07),(77.2,0.02),(94.7,-0.02),(114.4,-0.06),(140.6,-0.1),(164.6,-0.06),(190.9,-0.02),(201.8,0.01),(214.9,0.07),
 (225.8,0.1),(236.8,0.14),(247.7,0.19),(260.8,0.22),(276.1,0.26),(330.8,0.22),(339.5,0.18),(348.3,0.13),(359.2,0.08),(367.9,0.02),
 (376.7,-0.04),(387.6,-0.11),(396.3,-0.17),(407.3,-0.25),(418.2,-0.34),(429.1,-0.39),(437.9,-0.43),(485.9,-0.39),(496.9,-0.34),(507.8,-0.27),
 (516.5,-0.2),(525.3,-0.13),(536.2,-0.07),(545.0,0.0),(553.7,0.07),(562.5,0.13),(571.2,0.2),(582.1,0.28),(593.1,0.34),(604.0,0.4),
 (614.9,0.47),(625.8,0.51),(634.6,0.55),(654.3,0.59),(673.5,0.55),(675.2,0.55)]

re_pts = [(0.7,8.38),(103.4,8.33),(138.4,8.29),(158.1,8.25),(173.4,8.21),(188.7,8.17),(201.8,8.12),(214.9,8.09),(228.0,8.04),(241.1,8.0),
 (252.1,7.95),(265.2,7.91),(278.3,7.88),(293.6,7.85),(313.3,7.8),(337.3,7.76),(418.2,7.81),(437.9,7.84),(453.2,7.88),(466.3,7.93),
 (477.2,7.97),(488.1,8.02),(499.1,8.08),(510.0,8.13),(520.9,8.19),(529.7,8.24),(540.6,8.29),(551.5,8.34),(562.5,8.4),(573.4,8.46),
 (584.3,8.52),(593.1,8.56),(601.8,8.61),(610.5,8.65),(623.7,8.68),(632.4,8.7),(645.5,8.74),(673.5,8.78),(675.2,8.78)]

labels = ["DO", "IMF 1", "IMF 2", "IMF 3", "IMF 4", "IMF 5", "IMF 6", "IMF 7", "IMF 8", "Re"]
ytick_vals = [[6, 8, 10, 12], [-2, 0, 2], [-1, 0, 1], [-1, 0, 1], [-5, 0, 5], [-1, 0, 1],
              [-2, 0, 2], [-0.5, 0, 0.5], [-0.5, 0, 0.5, 1], [7.5, 8, 8.5, 9]]
ytick_text = [["6", "8", "10", "12"], ["-2", "0", "2"], ["-1", "0", "1"], ["-1", "0", "1"], ["-5", "0", "5"],
              ["-1", "0", "1"], ["-2", "0", "2"], ["-0.5", "0", "0.5"], ["-0.5", "0", "0.5", "1"],
              ["7.5", "8", "8.5", "9"]]
y_ranges = [[5.04, 12.19], [-2, 2], [-1, 1], [-1, 1], [-5, 5], [-1, 1], [-2, 2], [-0.5, 0.5], [-0.5, 1], [7.5, 9]]
xtick_vals = [100, 200, 300, 400, 500, 600]
xtick_text = ["100", "200", "300", "400", "500", "600"]

# ---------------- layout (pixel geometry of each panel) ----------------
series = [do_pts, imf1_pts, imf2_pts, imf3_pts, imf4_pts, imf5_pts, imf6_pts, imf7_pts, imf8_pts, re_pts]
widths = [8, 1.8, 7, 7, 6.5, 6.5, 7.5, 7.5, 9.5, 9.5]
shapes_ = ["linear"] * 8 + ["hv", "hv"]
tops = [23.3, 216.7, 415.6, 618.5, 820.9, 1011.3, 1204.9, 1399.0, 1588.0, 1786.0]
bots = [190.0, 388.3, 591.3, 794.2, 988.3, 1178.1, 1371.6, 1560.6, 1754.7, 1952.7]
lefts = [157.5, 153.0, 153.6, 153.6, 153.6, 153.6, 147.7, 151.2, 147.7, 138.9]
rights = [2868.8, 2868.0, 2868.8, 2868.8, 2868.8, 2868.8, 2870.8, 2870.8, 2870.8, 2870.8]
X0_PX, PX_PER_UNIT = 136.0, 4.05
OFF = 8.0  # page body offset compensation

FONT = "Liberation Sans, Arial, sans-serif"
fig = go.Figure()
layout = dict(
    width=W, height=H, margin=dict(l=0, r=0, t=0, b=0, pad=0, autoexpand=False),
    paper_bgcolor="white", plot_bgcolor="white", showlegend=False,
    font=dict(family=FONT, size=28, color="black"),
)
annotations = []
for i, pts in enumerate(series):
    n = i + 1
    xs = [p[0] for p in pts]
    ys = [p[1] for p in pts]
    fig.add_trace(go.Scatter(x=xs, y=ys, mode="lines",
                             line=dict(color=MAGENTA, width=widths[i], shape=shapes_[i]),
                             xaxis=f"x{n}", yaxis=f"y{n}", hoverinfo="skip"))
    xr = [(lefts[i] - X0_PX) / PX_PER_UNIT, (rights[i] - X0_PX) / PX_PER_UNIT]
    xdom = [(lefts[i] - OFF) / W, (rights[i] - OFF) / W]
    ydom = [1 - (bots[i] - OFF) / H, 1 - (tops[i] - OFF) / H]
    last = (i == len(series) - 1)
    xa = dict(domain=xdom, range=xr, anchor=f"y{n}", showgrid=False, zeroline=False, automargin=False,
              showline=True, linecolor="black", linewidth=2, mirror="ticks",
              ticks="inside", tickcolor="black")
    if last:
        xa.update(tickvals=xtick_vals, ticktext=xtick_text, ticklen=30, tickwidth=1.2,
                  showticklabels=True, tickfont=dict(size=29, family=FONT), ticklabelstandoff=8)
    else:
        xa.update(tickvals=[10, 667], ticklen=7, tickwidth=1.2, showticklabels=False)
    ya = dict(domain=ydom, range=y_ranges[i], anchor=f"x{n}", showgrid=False, zeroline=False, automargin=False,
              showline=True, linecolor="black", linewidth=2, mirror="ticks",
              ticks="inside", ticklen=28, tickwidth=2 if i == 0 else 1.3, tickcolor="black",
              tickvals=ytick_vals[i], ticktext=ytick_text[i],
              tickfont=dict(size=29, family=FONT), ticklabelstandoff=14)
    key = "" if n == 1 else str(n)
    layout["xaxis" + key] = xa
    layout["yaxis" + key] = ya
    annotations.append(dict(text=labels[i], xref="paper", yref="paper",
                            x=((34 if last else 40) - OFF) / W, y=1 - ((tops[i] + bots[i]) / 2 - OFF) / H,
                            xanchor="center", yanchor="middle", textangle=-90, showarrow=False,
                            font=dict(size=41, family=FONT, color="black")))
layout["annotations"] = annotations
fig.update_layout(**layout)
fig.write_html("out.html")
